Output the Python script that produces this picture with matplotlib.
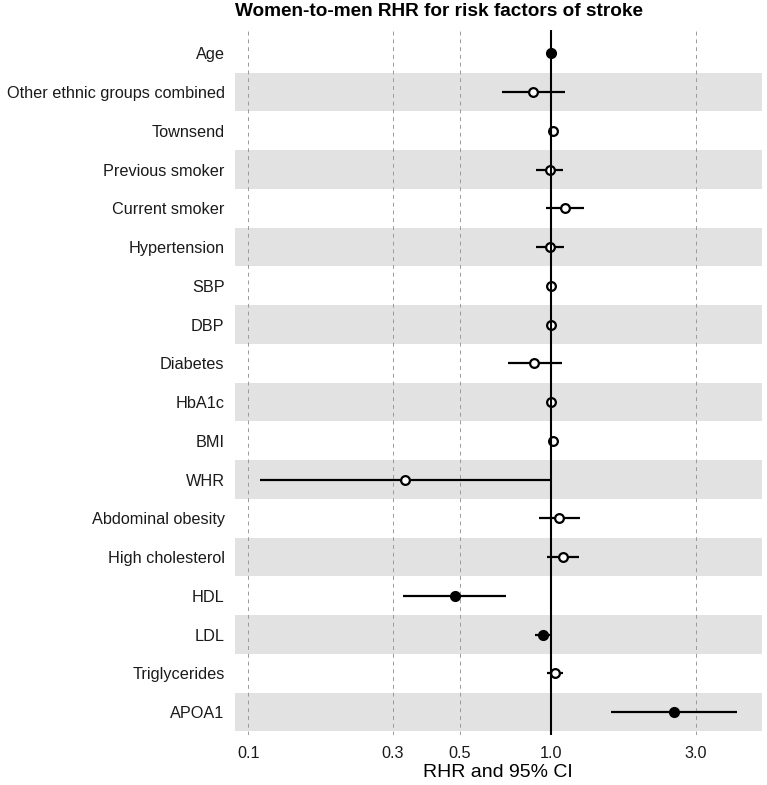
"""Women-to-men RHR forest plot for stroke risk factors."""
import matplotlib

matplotlib.use("Agg")
import matplotlib.pyplot as plt
import numpy as np

plt.rcParams["font.family"] = ["Liberation Sans", "DejaVu Sans"]

factors = [
    "Age", "Other ethnic groups combined", "Townsend", "Previous smoker",
    "Current smoker", "Hypertension", "SBP", "DBP", "Diabetes", "HbA1c",
    "BMI", "WHR", "Abdominal obesity", "High cholesterol", "HDL", "LDL",
    "Triglycerides", "APOA1",
]
rhr = [1.00, 0.87, 1.01, 0.99, 1.11, 0.99, 1.00, 1.00, 0.88, 1.00,
       1.01, 0.33, 1.06, 1.09, 0.48, 0.94, 1.03, 2.54]
lower = [0.99, 0.69, 0.995, 0.89, 0.96, 0.89, 0.995, 0.995, 0.72, 0.995,
         0.995, 0.109, 0.91, 0.965, 0.324, 0.885, 0.97, 1.58]
upper = [1.01, 1.11, 1.02, 1.09, 1.28, 1.10, 1.005, 1.005, 1.085, 1.005,
         1.02, 1.00, 1.24, 1.235, 0.71, 0.995, 1.09, 4.12]
significant = [True, False, False, False, False, False, False, False, False,
               False, False, False, False, False, True, True, False, True]
xticks = [0.1, 0.3, 0.5, 1.0, 3.0]
xtick_labels = ["0.1", "0.3", "0.5", "1.0", "3.0"]

fig = plt.figure(figsize=(7.67, 7.85), dpi=100)
ax = fig.add_axes([0.3064, 0.0633, 0.6867, 0.8985])

n = len(factors)
y = np.arange(n)

# alternating grey bands
for i in y:
    if i % 2 == 1:
        ax.axhspan(i - 0.5, i + 0.5, color="#e2e2e2", lw=0, zorder=0)

for xt in xticks:
    if xt != 1.0:
        ax.axvline(xt, color="#9a9a9a", lw=0.7, ls=(0, (4, 4)), zorder=1)

ax.hlines(y, lower, upper, color="black", lw=1.6, zorder=2)

sig = np.array(significant)
r = np.array(rhr)
ax.plot(r[sig], y[sig], "o", ms=6.8, mfc="black", mec="black", mew=1.2,
        ls="none", zorder=3)
ax.plot(r[~sig], y[~sig], "o", ms=6.3, mfc="white", mec="black", mew=1.6,
        ls="none", zorder=3)

ax.axvline(1.0, color="black", lw=1.5, zorder=4)

ax.set_xscale("log")
ax.set_xlim(10 ** -1.044, 10 ** 0.695)
ax.set_ylim(n - 1 + 0.6, -0.6)
ax.set_xticks(xticks)
ax.set_xticklabels(xtick_labels)
ax.minorticks_off()
ax.set_yticks(y)
ax.set_yticklabels(factors)
ax.tick_params(axis="both", length=0, labelsize=11.7, colors="#1a1a1a")
ax.tick_params(axis="y", pad=7.5)
ax.tick_params(axis="x", pad=8)
for s in ax.spines.values():
    s.set_visible(False)

ax.set_xlabel("RHR and 95% CI", fontsize=14, color="black", labelpad=2)
fig.text(0.3064, 0.985, "Women-to-men RHR for risk factors of stroke",
         fontsize=13.7, fontweight="bold", ha="left", va="center")

fig.savefig("out.png", dpi=100)
